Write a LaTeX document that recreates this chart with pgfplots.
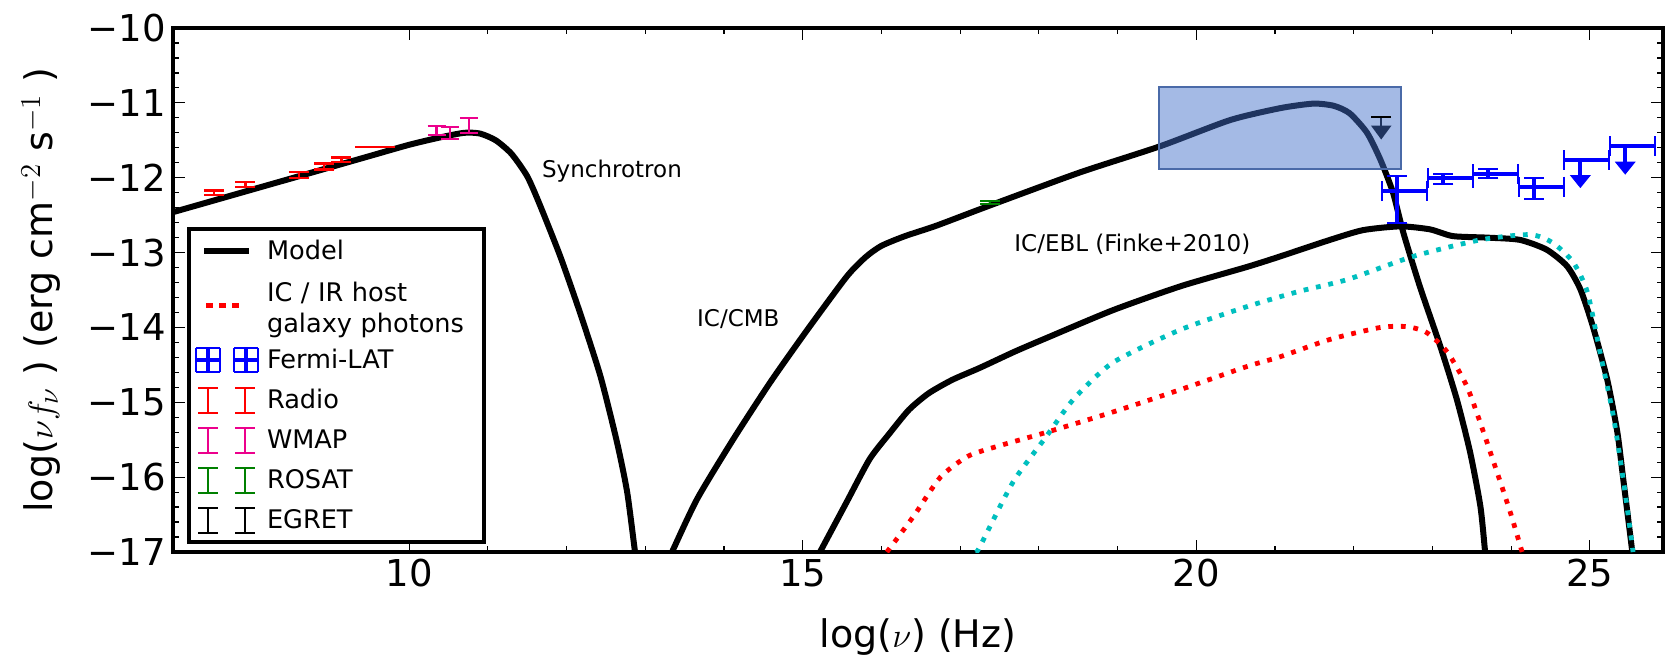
\documentclass[border=0pt]{standalone}
\usepackage{fontspec}
\setmainfont{DejaVu Sans}
\usepackage{pgfplots}
\pgfplotsset{compat=1.18}
\usetikzlibrary{arrows.meta}
\definecolor{boxfill}{RGB}{65,110,200}
\definecolor{boxedge}{RGB}{74,106,168}
\definecolor{mplcyan}{RGB}{0,191,191}
\definecolor{mplgreen}{RGB}{0,128,0}
\pgfplotsset{
  errI/.style={legend image code/.code={
    \draw[#1, line width=1.2pt] (6.5pt,-6.25pt) -- (6.5pt,6.25pt) (1.5pt,-6.25pt) -- (11.5pt,-6.25pt) (1.5pt,6.25pt) -- (11.5pt,6.25pt)
      (25pt,-6.25pt) -- (25pt,6.25pt) (20pt,-6.25pt) -- (30pt,-6.25pt) (20pt,6.25pt) -- (30pt,6.25pt);
    \path[draw=none] (-0.5pt,0pt) -- (33pt,0pt);
  }},
  model/.style={black, line width=3pt, smooth, tension=0.4, line join=round},
  dotc/.style={line width=2.4pt, dash pattern=on 2.4pt off 3.9pt, smooth, tension=0.4},
}
\begin{document}
\begin{tikzpicture}
\begin{axis}[
  at={(0,0)}, anchor=south west,
  scale only axis, width=745pt, height=262pt,
  xmin=7, xmax=25.93, ymin=-17, ymax=-10,
  xtick={10,15,20,25}, xticklabels={10,15,20,25},
  ytick={-17,-16,-15,-14,-13,-12,-11,-10},
  yticklabels={−17,−16,−15,−14,−13,−12,−11,−10},
  minor x tick num=4, minor y tick num=4,
  tick align=inside, tick pos=both,
  major tick length=6pt, minor tick length=3pt,
  every tick/.style={black, line width=0.6pt},
  axis line style={line width=2.2pt},
  tick label style={font=\fontsize{18.5}{20}\selectfont},
  label style={font=\fontsize{19}{22}\selectfont},
  xlabel={log($\nu$) (Hz)},
  ylabel={log($\nu f_\nu$ ) (erg cm$^{-2}$ s$^{-1}$ )},
  xlabel style={at={(axis description cs:0.5,-0.162)}, anchor=center},
  ylabel style={at={(axis description cs:-0.0886,0.5)}, anchor=center},
  legend cell align=left,
  legend style={at={(axis description cs:0.0094,0.620)}, anchor=north west,
    draw=black, line width=2pt, inner xsep=2.5pt, inner ysep=1pt,
    font=\fontsize{12.8}{15.2}\selectfont, nodes={inner ysep=4.5pt},
    cells={anchor=west},
    row sep=0pt, /tikz/every odd column/.append style={column sep=1pt},
    /tikz/every even column/.append style={nodes={text width=104pt, align=left}}},
]
% model curves
\addplot[model, forget plot] coordinates {
(7,-12.46)(7.5,-12.31)(8,-12.16)(8.5,-12.01)(9,-11.86)(9.5,-11.71)(10,-11.56)(10.4,-11.46)(10.7,-11.40)(10.9,-11.41)(11.1,-11.5)(11.3,-11.68)(11.5,-11.98)(11.66,-12.36)(11.92,-13.05)(12.17,-13.8)(12.43,-14.65)(12.64,-15.53)(12.77,-16.2)(12.87,-17)(12.9,-17.2)};
\addplot[model, forget plot] coordinates {
(13.3,-17.1)(13.34,-17)(13.66,-16.29)(14.12,-15.49)(14.59,-14.73)(15.06,-14.03)(15.56,-13.32)(15.8,-13.06)(16.0,-12.91)(16.3,-12.78)(16.7,-12.64)(17.38,-12.37)(18.52,-11.93)(19.54,-11.58)(20.43,-11.23)(21.07,-11.07)(21.49,-11.01)(21.75,-11.04)(21.95,-11.14)(22.17,-11.4)(22.34,-11.76)(22.5,-12.2)(22.63,-12.73)(22.84,-13.45)(23.1,-14.25)(23.31,-14.96)(23.48,-15.67)(23.61,-16.39)(23.67,-17)(23.69,-17.2)};
\addplot[model, forget plot] coordinates {
(15.17,-17.1)(15.22,-17)(15.56,-16.33)(15.85,-15.76)(16.1,-15.42)(16.35,-15.1)(16.6,-14.88)(16.9,-14.7)(17.25,-14.54)(17.7,-14.32)(18.1,-14.14)(18.94,-13.77)(19.8,-13.45)(20.65,-13.19)(21.07,-13.05)(21.7,-12.83)(22.12,-12.7)(22.59,-12.65)(22.97,-12.69)(23.26,-12.78)(23.69,-12.8)(24.11,-12.83)(24.45,-12.96)(24.71,-13.18)(24.88,-13.49)(25.04,-13.99)(25.22,-14.69)(25.35,-15.4)(25.43,-16.07)(25.54,-17)(25.56,-17.2)};
% dotted components
\addplot[dotc, mplcyan, forget plot] coordinates {
(17.2,-17)(17.25,-16.93)(17.67,-16.07)(18.1,-15.45)(18.44,-14.96)(18.94,-14.47)(19.8,-14.03)(20.65,-13.72)(21.3,-13.52)(21.92,-13.36)(22.76,-13.05)(23.61,-12.83)(24.24,-12.76)(24.53,-12.87)(24.79,-13.13)(24.97,-13.53)(25.13,-14.33)(25.3,-15.19)(25.43,-16.07)(25.55,-17)};
\addplot[dotc, red, forget plot] coordinates {
(16.07,-17)(16.41,-16.52)(16.75,-16.0)(17.1,-15.72)(17.5,-15.58)(18.1,-15.4)(18.94,-15.13)(19.8,-14.83)(20.65,-14.52)(21.07,-14.39)(21.7,-14.16)(22.34,-14.0)(22.68,-13.99)(22.93,-14.07)(23.19,-14.33)(23.44,-14.79)(23.65,-15.4)(23.82,-15.93)(23.99,-16.47)(24.14,-17)};
% Radio
\addplot[red, draw=none, mark=none, forget plot, error bars/.cd, y dir=both, y explicit, error mark=|,
  error bar style={line width=1.2pt, red}, error mark options={line width=1.2pt, mark size=5pt, red}]
  coordinates {(7.52,-12.2) +- (0,0.03) (7.92,-12.09) +- (0,0.03) (8.6,-11.96) +- (0,0.04) (8.92,-11.85) +- (0,0.04) (9.14,-11.76) +- (0,0.03)};
\addplot[red, draw=none, mark=none, forget plot, error bars/.cd, y dir=both, y explicit, error mark=|,
  error bar style={line width=1pt, red}, error mark options={line width=1pt, mark size=10pt, red}]
  coordinates {(9.57,-11.59) +- (0,0.005)};
% WMAP
\addplot[magenta, draw=none, mark=none, forget plot, error bars/.cd, y dir=both, y explicit, error mark=|,
  error bar style={line width=1.2pt, magenta}, error mark options={line width=1.2pt, mark size=4.5pt, magenta}]
  coordinates {(10.35,-11.37) +- (0,0.06) (10.52,-11.40) +- (0,0.08) (10.76,-11.30) +- (0,0.1)};
% ROSAT
\addplot[mplgreen, draw=none, mark=none, forget plot, error bars/.cd, y dir=both, y explicit, error mark=|,
  error bar style={line width=1.2pt, mplgreen}, error mark options={line width=1.2pt, mark size=5pt, mplgreen}]
  coordinates {(17.38,-12.33) +- (0,0.02)};
% EGRET upper limit
\addplot[black, only marks, mark=-, mark size=5pt, mark options={line width=1pt}, forget plot]
  coordinates {(22.35,-11.19)};
\addplot[black, line width=1.2pt, -{Triangle[width=10pt,length=7pt]}, quiver={u=0, v=-0.3}, forget plot]
  coordinates {(22.35,-11.19)};
% Fermi-LAT
\addplot[blue, draw=none, mark=none, forget plot, error bars/.cd, x dir=both, x explicit, y dir=both, y explicit, error mark=|,
  error bar style={line width=2pt, blue}, error mark options={line width=1pt, mark size=5pt, blue}]
  coordinates {
  (22.55,-12.18) += (0.38,0.20) -= (0.19,0.42)
  (23.14,-12.01) += (0.38,0.06) -= (0.19,0.08)
  (23.71,-11.95) += (0.38,0.06) -= (0.19,0.05)
  (24.29,-12.12) += (0.38,0.12) -= (0.19,0.16)};
\addplot[blue, draw=none, mark=none, forget plot, error bars/.cd, x dir=both, x explicit, error mark=|,
  error bar style={line width=2pt, blue}, error mark options={line width=1pt, mark size=5pt, blue}]
  coordinates {
  (24.88,-11.76) += (0.37,0) -= (0.21,0)
  (25.45,-11.58) += (0.38,0) -= (0.19,0)};
\addplot[blue, line width=2pt, -{Triangle[width=10pt,length=6.5pt]}, quiver={u=0, v=-0.38}, forget plot]
  coordinates {(24.88,-11.76) (25.45,-11.58)};
% shaded box
\addplot[fill=boxfill, fill opacity=0.48, draw=boxedge, line width=1pt, forget plot]
  coordinates {(19.53,-11.88) (22.6,-11.88) (22.6,-10.79) (19.53,-10.79)} -- cycle;
% labels
\node[font=\fontsize{11.5}{13}\selectfont, anchor=west] at (axis cs:11.6,-11.91) {Synchrotron};
\node[font=\fontsize{11.5}{13}\selectfont, anchor=west] at (axis cs:13.57,-13.89) {IC/CMB};
\node[font=\fontsize{11.5}{13}\selectfont, anchor=west] at (axis cs:17.6,-12.89) {IC/EBL (Finke+2010)};
% legend
\addlegendimage{legend image code/.code={\draw[black, line width=3pt] (4.5pt,0pt) -- (27pt,0pt); \path[draw=none] (-0.5pt,0pt) -- (33pt,0pt);}}
\addlegendentry{Model}
\addlegendimage{legend image code/.code={\draw[red, line width=2.5pt, dash pattern=on 3.5pt off 3pt] (5.5pt,0pt) -- (23pt,0pt); \path[draw=none] (-0.5pt,0pt) -- (33pt,0pt);}}
\addlegendentry{\rule[-6.5pt]{0pt}{6.5pt}\raisebox{5.4pt}{\begin{tabular}{@{}l@{}}IC / IR host\\galaxy photons\end{tabular}}}
\addlegendimage{legend image code/.code={
  \draw[blue, line width=1.8pt] (0.5pt,0pt) -- (12.5pt,0pt) (6.5pt,-6pt) -- (6.5pt,6pt)
     (19.5pt,0pt) -- (31.5pt,0pt) (25.5pt,-6pt) -- (25.5pt,6pt);
  \draw[blue, line width=0.9pt] (0.5pt,-6pt) -- (0.5pt,6pt) (12.5pt,-6pt) -- (12.5pt,6pt)
     (0.5pt,-6pt) -- (12.5pt,-6pt) (0.5pt,6pt) -- (12.5pt,6pt)
     (19.5pt,-6pt) -- (19.5pt,6pt) (31.5pt,-6pt) -- (31.5pt,6pt)
     (19.5pt,-6pt) -- (31.5pt,-6pt) (19.5pt,6pt) -- (31.5pt,6pt);
  \path[draw=none] (-0.5pt,0pt) -- (33pt,0pt);}}
\addlegendentry{Fermi-LAT}
\addlegendimage{errI=red}
\addlegendentry{Radio}
\addlegendimage{errI=magenta}
\addlegendentry{WMAP}
\addlegendimage{errI=mplgreen}
\addlegendentry{ROSAT}
\addlegendimage{errI=black}
\addlegendentry{EGRET}
\end{axis}
\pgfresetboundingbox
\path[use as bounding box] (-86.5pt,-54.5pt) rectangle (746pt,276pt);
\end{tikzpicture}
\end{document}
